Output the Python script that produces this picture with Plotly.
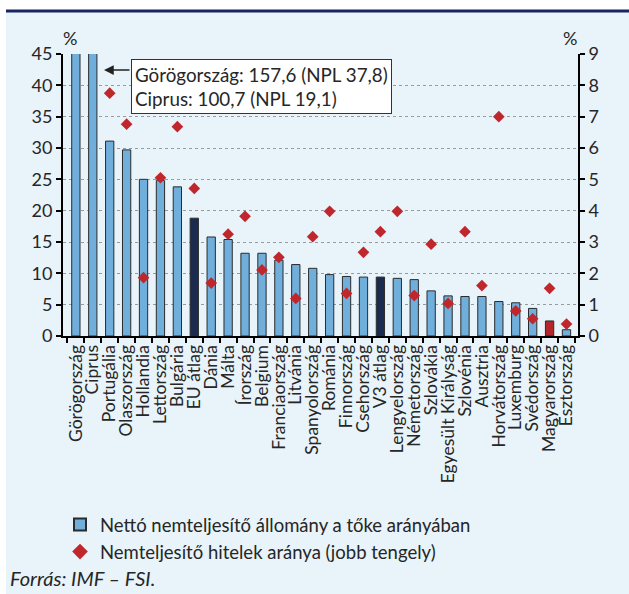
import plotly.graph_objects as go

categories = ["Görögország", "Ciprus", "Portugália", "Olaszország", "Hollandia", "Lettország",
              "Bulgária", "EU átlag", "Dánia", "Málta", "Írország", "Belgium", "Franciaország",
              "Litvánia", "Spanyolország", "Románia", "Finnország", "Csehország", "V3 átlag",
              "Lengyelország", "Németország", "Szlovákia", "Egyesült Királyság", "Szlovénia",
              "Ausztria", "Horvátország", "Luxemburg", "Svédország", "Magyarország", "Észtország"]

net_npl_to_capital = [157.6, 100.7, 31.1, 29.7, 25.0, 24.8, 23.8, 18.8, 15.8, 15.4, 13.2, 13.2, 12.1,
                      11.4, 10.8, 9.8, 9.5, 9.4, 9.4, 9.2, 9.0, 7.2, 6.4, 6.3, 6.3, 5.5, 5.3, 4.4,
                      2.4, 1.0]

npl_ratio = [37.8, 19.1, 7.75, 6.76, 1.86, 5.05, 6.68, 4.71, 1.69, 3.25, 3.82, 2.11, 2.51, 1.20, 3.17,
             3.98, 1.36, 2.67, 3.33, 3.98, 1.29, 2.93, 1.04, 3.33, 1.61, 7.0, 0.80, 0.55, 1.52, 0.38]

left_ticks = [0, 5, 10, 15, 20, 25, 30, 35, 40, 45]
right_ticks = [0, 1, 2, 3, 4, 5, 6, 7, 8, 9]

bar_name = "Nettó nemteljesítő állomány a tőke arányában"
dot_name = "Nemteljesítő hitelek aránya (jobb tengely)"
source_text = "Forrás: IMF – FSI."
note_text = "Görögország: 157,6 (NPL 37,8)<br>Ciprus: 100,7 (NPL 19,1)"

LIGHT = "#70AFDC"
DARK = "#1B2B50"
RED_BAR = "#B3262B"
bar_colors = []
for c in categories:
    if c in ("EU átlag", "V3 átlag"):
        bar_colors.append(DARK)
    elif c == "Magyarország":
        bar_colors.append(RED_BAR)
    else:
        bar_colors.append(LIGHT)

FONT = "Lato, Calibri, Carlito, sans-serif"
TXT = "#262626"

# plot-area geometry in pixels (for paper-coordinate conversions)
W, H = 629, 594
L, R, T, B = 63, 51, 54, 258
PW, PH = W - L - R, H - T - B


def px(x):
    return (x - L) / PW


def py(y):
    return (H - B - y) / PH


fig = go.Figure()
fig.add_trace(go.Bar(
    x=categories, y=net_npl_to_capital, name=bar_name,
    marker=dict(color=bar_colors, line=dict(color="#2b2b2b", width=1)),
    width=0.49, yaxis="y",
))
fig.add_trace(go.Scatter(
    x=categories, y=npl_ratio, name=dot_name, mode="markers",
    marker=dict(symbol="diamond", size=9, color="#C0272D"),
    yaxis="y2", cliponaxis=True,
))

fig.update_layout(
    width=W, height=H,
    margin=dict(l=L, r=R, t=T, b=B, pad=0),
    paper_bgcolor="white",
    plot_bgcolor="rgba(0,0,0,0)",
    font=dict(family=FONT, size=18, color=TXT),
    showlegend=True,
    legend=dict(
        x=px(60), y=py(506), xanchor="left", yanchor="top",
        bgcolor="rgba(0,0,0,0)", font=dict(size=18.5, color=TXT),
        tracegroupgap=0, itemsizing="constant",
    ),
    bargap=0.5,
    xaxis=dict(
        type="category", range=[-0.76, 29.68],
        tickmode="array", tickvals=categories, ticktext=categories,
        tickangle=-90, tickfont=dict(size=17.5, color=TXT),
        showline=True, linecolor="black", linewidth=2,
        ticks="outside", ticklen=5, tickwidth=2, tickcolor="black",
        tickson="boundaries", showgrid=False, automargin=False,
    ),
    yaxis=dict(
        range=[0, 45], tickvals=left_ticks, ticktext=[str(v) for v in left_ticks],
        showline=True, linecolor="black", linewidth=2,
        ticks="outside", ticklen=5, tickwidth=2, tickcolor="black",
        showgrid=True, gridcolor="#9a9a9a", griddash="dot", gridwidth=1,
        zeroline=False, tickfont=dict(size=18, color=TXT), automargin=False,
    ),
    yaxis2=dict(
        range=[0, 9], tickvals=right_ticks, ticktext=[str(v) for v in right_ticks],
        overlaying="y", side="right",
        showline=True, linecolor="black", linewidth=2,
        ticks="outside", ticklen=5, tickwidth=2, tickcolor="black",
        showgrid=False, zeroline=False, tickfont=dict(size=18, color=TXT), automargin=False,
    ),
    shapes=[
        dict(type="rect", xref="paper", yref="paper", x0=px(6), x1=px(629), y0=py(12), y1=py(594),
             fillcolor="#E8F3FA", line=dict(width=0), layer="below"),
        dict(type="line", xref="paper", yref="paper", x0=px(6), x1=px(629), y0=py(11), y1=py(11),
             line=dict(color="#1B2462", width=3), layer="above"),
    ],
    annotations=[
        dict(text="%", xref="paper", yref="paper", x=px(70), y=py(38), showarrow=False,
             font=dict(size=18, color=TXT), xanchor="center", yanchor="middle"),
        dict(text="%", xref="paper", yref="paper", x=px(570), y=py(38), showarrow=False,
             font=dict(size=18, color=TXT), xanchor="center", yanchor="middle"),
        dict(text=note_text, xref="paper", yref="paper", x=px(131), y=py(59),
             xanchor="left", yanchor="top", align="left", showarrow=False,
             bgcolor="white", bordercolor="#333333", borderwidth=1, borderpad=3,
             font=dict(size=18.8, color=TXT)),
        dict(text="", xref="paper", yref="paper", x=px(104), y=py(70),
             showarrow=True, ax=27, ay=0, arrowhead=2, arrowsize=1.3, arrowwidth=1.5,
             arrowcolor="#222222"),
        dict(text=source_text, xref="paper", yref="paper", x=px(8), y=py(578),
             xanchor="left", yanchor="middle", showarrow=False,
             font=dict(size=20, color=TXT, style="italic")),
    ],
)

fig.write_html("out.html", config={"displayModeBar": False},
               post_script="document.body.style.margin='0';")
